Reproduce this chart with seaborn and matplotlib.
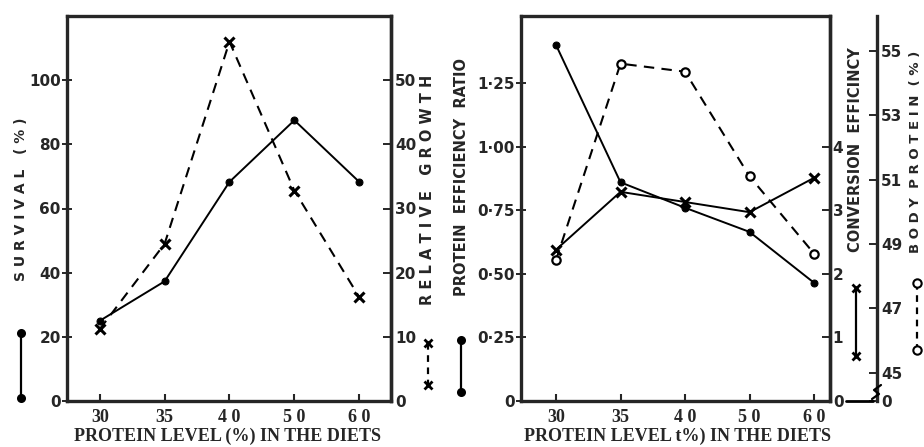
import matplotlib.pyplot as plt
import seaborn as sns
import pandas as pd
import numpy as np
from matplotlib.lines import Line2D

# protein level in the diets (%)
levels = [30, 35, 40, 50, 60]
level_labels = ['30', '35', '4 0', '5 0', '6 0']
survival = [25.0, 37.3, 68.3, 87.5, 68.3]
growth = [11.2, 24.5, 56.0, 32.8, 16.2]
per = [1.40, 0.86, 0.76, 0.665, 0.465]
conv_eff = [2.38, 3.29, 3.13, 2.97, 3.51]
body_protein = [48.5, 54.6, 54.35, 51.1, 48.7]

per_ticks = [0, 0.25, 0.50, 0.75, 1.00, 1.25]
per_labels = ['0', '0·25', '0·50', '0·75', '1·00', '1·25']

df = pd.DataFrame({'pos': np.arange(len(levels)), 'level': levels,
                   'survival': survival, 'growth': growth, 'per': per,
                   'ce': conv_eff, 'bp': body_protein})

sns.set_style("ticks")
plt.rcParams['font.family'] = ['DejaVu Sans']
plt.rcParams['font.weight'] = 'bold'

W, H = 924, 447
fig = plt.figure(figsize=(W / 100, H / 100), dpi=100)
ax1 = fig.add_axes([67 / W, 1 - 401 / H, 324 / W, 385 / H])
ax2 = fig.add_axes([521 / W, 1 - 401 / H, 309 / W, 385 / H])

serif = 'Liberation Serif'
tickfs = 11
lw_sp = 2.4
dash = (0, (5, 3.5))

# ---- left panel
sns.lineplot(data=df, x='pos', y='survival', ax=ax1, color='black', lw=1.4,
             marker='o', markersize=5, markeredgecolor='black')
ax1b = ax1.twinx()
sns.lineplot(data=df, x='pos', y='growth', ax=ax1b, color='black', lw=1.5,
             linestyle=dash, marker='x', markersize=7, markeredgewidth=2.2,
             markeredgecolor='black')
ax1.set_ylim(0, 120)
ax1b.set_ylim(0, 60)
ax1.set_xlim(-0.505, 4.49)
ax1.set_yticks([0, 20, 40, 60, 80, 100])
ax1b.set_yticks([0, 10, 20, 30, 40, 50])

# ---- right panel
sns.lineplot(data=df, x='pos', y='per', ax=ax2, color='black', lw=1.4,
             marker='o', markersize=5, markeredgecolor='black')
ax2b = ax2.twinx()
sns.lineplot(data=df, x='pos', y='ce', ax=ax2b, color='black', lw=1.4,
             marker='x', markersize=7, markeredgewidth=2.2, markeredgecolor='black')
ax2c = ax2.twinx()
sns.lineplot(data=df, x='pos', y='bp', ax=ax2c, color='black', lw=1.5,
             linestyle=dash, marker='o', markersize=6,
             markerfacecolor='white', markeredgecolor='black', markeredgewidth=1.6)
ax2.set_ylim(0, 1.514)
ax2b.set_ylim(0, 1.514 * 4)
bp_lo, bp_hi = 44.12, 56.08
ax2c.set_ylim(bp_lo, bp_hi)
ax2.set_xlim(-0.543, 4.248)
ax2.set_yticks(per_ticks, per_labels)
ax2b.set_yticks([0, 1, 2, 3, 4])
ax2c.set_yticks([bp_lo, 45, 47, 49, 51, 53, 55], ['0', '45', '47', '49', '51', '53', '55'])
ax2c.spines['right'].set_position(('axes', (877 - 521) / 309))

for ax in (ax1, ax2):
    ax.set_xticks(np.arange(len(levels)), level_labels)
    ax.tick_params(axis='x', direction='in', length=5, width=1.5, pad=6)
    for t in ax.get_xticklabels():
        t.set_fontfamily(serif)
        t.set_fontsize(13)
        t.set_fontweight('bold')
    ax.tick_params(axis='y', direction='inout', length=7, width=1.4, labelsize=tickfs, pad=1)
    ax.set_xlabel('')
    ax.set_ylabel('')
    for s in ax.spines.values():
        s.set_visible(True)
        s.set_linewidth(lw_sp)

for ax in (ax1b, ax2b, ax2c):
    ax.tick_params(axis='y', direction='in', length=6, width=1.4, labelsize=tickfs, pad=3)
    ax.set_ylabel('')
    for k in ('top', 'left', 'bottom'):
        ax.spines[k].set_visible(False)
    ax.spines['right'].set_linewidth(lw_sp)
ax2b.tick_params(axis='y', pad=2)

# axis titles
def vlabel(x, y, s, fs=10):
    fig.text(x / W, 1 - y / H, s, rotation=90, ha='center', va='center',
             fontsize=fs, fontweight='bold')

vlabel(21, 199, 'S U R V I V A L   ( % )', 10)
vlabel(427, 190, 'R E L A T I V E   G R O W T H', 10.5)
vlabel(461, 177, 'PROTEIN  EFFICIENCY  RATIO', 10.5)
vlabel(856, 150, 'CONVERSION  EFFICINCY', 10.5)
vlabel(916, 152, 'B O D Y  P R O T E I N  ( % )', 9.5)

fig.text(228 / W, 1 - 436 / H, 'PROTEIN LEVEL (%) IN THE DIETS', ha='center', va='center',
         fontfamily=serif, fontsize=13, fontweight='bold')
fig.text(677 / W, 1 - 436 / H, 'PROTEIN LEVEL t%) IN THE DIETS', ha='center', va='center',
         fontfamily=serif, fontsize=13, fontweight='bold')

# legend keys drawn beside the axis titles
def key(x, y1, y2, ls, marker, mfc='black', ms=5, mew=1.5):
    fig.add_artist(Line2D([x / W, x / W], [1 - y1 / H, 1 - y2 / H], color='black',
                          lw=1.6, linestyle=ls, marker=marker, markersize=ms,
                          markerfacecolor=mfc, markeredgecolor='black',
                          markeredgewidth=mew))

key(21, 333, 398, '-', 'o')
key(428, 343, 385, (0, (3, 2.5)), 'x', ms=6, mew=2)
key(461, 340, 392, '-', 'o')
key(856, 288, 356, '-', 'x', ms=6, mew=2)
key(917, 283, 350, (0, (3, 2.5)), 'o', mfc='white', ms=6)

# bottom joint and axis break of the body protein scale
fig.add_artist(Line2D([846 / W, 873 / W], [1 - 401 / H, 1 - 401 / H], color='black', lw=2))
fig.add_artist(Line2D([872 / W, 879 / W, 874 / W, 881 / W],
                      [1 - 399 / H, 1 - 394 / H, 1 - 390 / H, 1 - 385 / H], color='black', lw=1.6))

fig.savefig('out.png', dpi=100, facecolor='white')
